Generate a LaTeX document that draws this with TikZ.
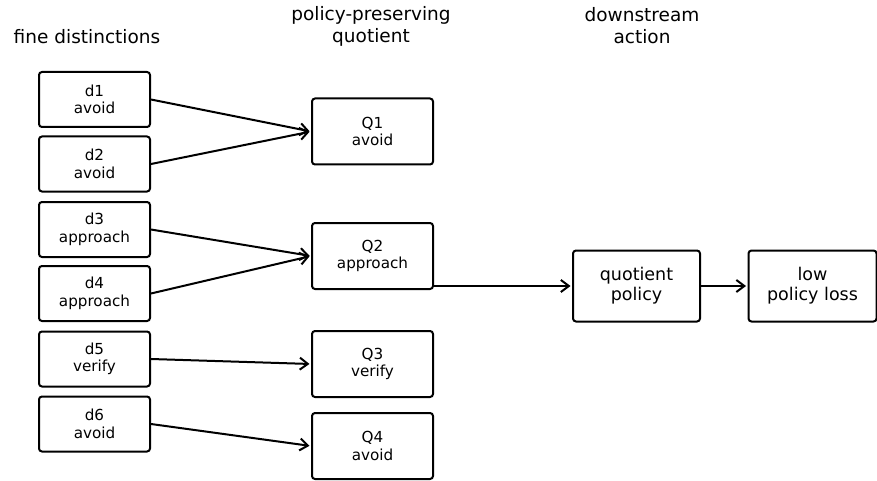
\documentclass[tikz,border=0pt]{standalone}
\usepackage{fontspec}
\setmainfont{DejaVu Sans}
\usetikzlibrary{arrows.meta}
\begin{document}
\begin{tikzpicture}[x=1pt,y=-1pt,
  box/.style={draw, line width=2pt, rounded corners=3pt, align=center, inner sep=0pt,
    font=\fontsize{15.2}{17.5}\selectfont},
  dbox/.style={box, minimum width=111pt, minimum height=55pt},
  qbox/.style={box, minimum width=121pt, minimum height=66pt},
  abox/.style={box, minimum width=127pt, minimum height=71pt, font=\fontsize{17.5}{20}\selectfont},
  title/.style={align=center, inner sep=0pt, font=\fontsize{18.5}{22}\selectfont},
  conn/.style={line width=2pt, -{Straight Barb[length=8pt,width=12pt,line width=2pt]}, shorten >=1.5pt}
]
\useasboundingbox (0,0) rectangle (877,481);
\node[title] (t1) at (87,37) {fine distinctions};
\node[title] (t2) at (371,26) {policy-preserving\\quotient};
\node[title] (t3) at (642,26) {downstream\\action};

\node[dbox] (d1) at (94.5,99.5) {d1\\avoid};
\node[dbox] (d2) at (94.5,164) {d2\\avoid};
\node[dbox] (d3) at (94.5,229.5) {d3\\approach};
\node[dbox] (d4) at (94.5,293.5) {d4\\approach};
\node[dbox] (d5) at (94.5,359) {d5\\verify};
\node[dbox] (d6) at (94.5,424) {d6\\avoid};

\node[qbox] (q1) at (372.5,131.5) {Q1\\avoid};
\node[qbox] (q2) at (372.5,256) {Q2\\approach};
\node[qbox] (q3) at (372.5,364) {Q3\\verify};
\node[qbox] (q4) at (372.5,446) {Q4\\avoid};

\node[abox] (qp) at (636.5,286) {quotient\\policy};
\node[abox, minimum width=128pt] (low) at (812.5,286) {low\\policy loss};

\draw[conn] (d1.east) -- (q1.west);
\draw[conn] (d2.east) -- (q1.west);
\draw[conn] (d3.east) -- (q2.west);
\draw[conn] (d4.east) -- (q2.west);
\draw[conn] (d5.east) -- (q3.west);
\draw[conn] (d6.east) -- (q4.west);
\draw[conn] (q2.east |- qp.west) -- (qp.west);
\draw[conn] (qp.east) -- (low.west);
\end{tikzpicture}
\end{document}
